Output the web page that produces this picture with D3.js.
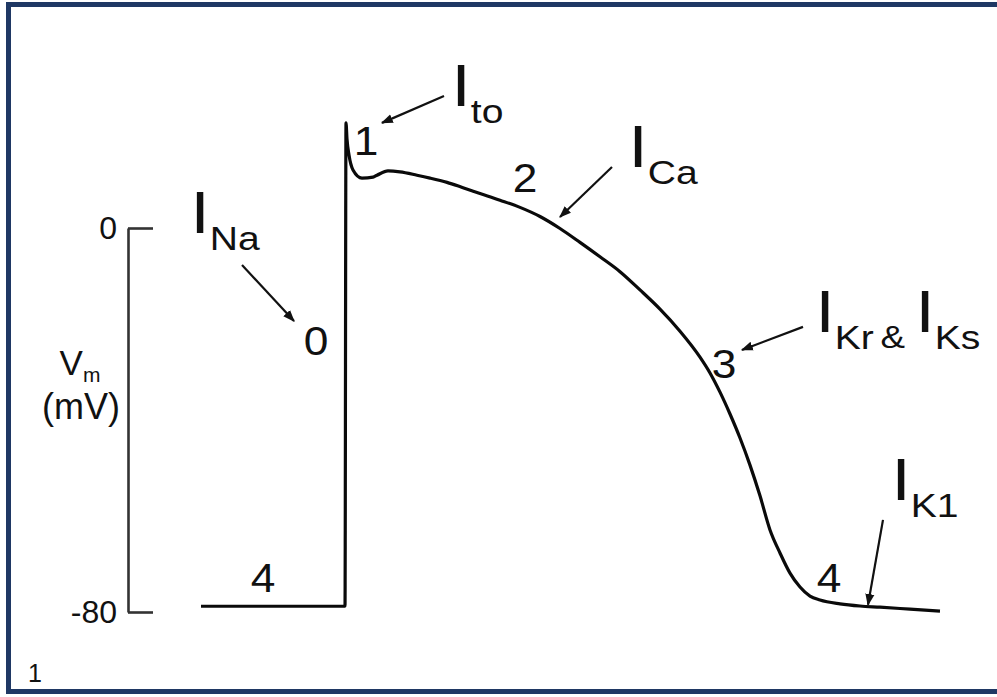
<!DOCTYPE html>
<html><head><meta charset="utf-8">
<script src="https://cdn.jsdelivr.net/npm/d3@7"></script>
<style>
body{margin:0;background:#fff}
svg{display:block}
text{font-family:"Liberation Sans",Arial,Helvetica,sans-serif;fill:#111}
</style>
</head><body>
<svg id="chart" width="997" height="697"></svg>
<script>
// ---- data (time in ms relative to upstroke, membrane potential in mV) ----
const timeMs = [-72, 0, 0.5, 1, 2, 4, 8.5, 14, 16, 21.5, 27.5, 36, 42.5, 51, 59, 67.5, 77.5, 87.5, 97.5,
  107.5, 117.5, 127.5, 137.5, 147.5, 157.5, 167.5, 177.5, 182.5, 187.5, 192.5, 197.5, 202.5, 207.5, 212.5,
  217.5, 222.5, 227.5, 232.5, 237.5, 247.5, 257.5, 267.5, 282.5, 297.5];
const vm = [-78.8, -78.8, 21.9, 18.5, 15.2, 12.1, 10.4, 10.6, 11.0, 11.9, 11.7, 11.0, 10.4, 9.5, 8.4, 7.2, 5.8, 4.3, 2.4,
  -0.1, -3.0, -6.0, -9.1, -12.9, -16.9, -21.5, -26.9, -30.2, -34.2, -38.75, -43.75, -49.4, -55.8, -62.9,
  -67.7, -71.9, -74.8, -76.7, -77.5, -78.3, -78.75, -79.0, -79.4, -79.8];

const axisTicks = [0, -80];
const axisTitle = "V";
const axisTitleSub = "m";
const axisUnit = "(mV)";

const phaseLabels = ["0", "1", "2", "3", "4", "4"];
const phaseT = [-14.5, 10.5, 90, 189.5, -41, 242];
const phaseV = [-26.5, 15.2, 7.5, -31.3, -75.8, -75.8];

const currentSubs = ["Na", "to", "Ca", "Kr", "Ks", "K1"];
const currentT = [-77.2, 53.3, 141.8, 235.3, 285.3, 273.3];
const currentV = [-1.0, 25.4, 12.7, -21.7, -21.7, -56.7];
const joinLabel = "&";
const joinT = 267.8;
const joinV = -25.0;

const arrowFromT = [-51.5, 49.5, 133.5, 229, 269];
const arrowFromV = [-7.7, 27.5, 12.7, -20.6, -60.8];
const arrowToT = [-25.5, 18.5, 107.5, 198.5, 261.5];
const arrowToV = [-19.4, 21.9, 2.3, -25.4, -78.5];

const figureNumber = "1";

// ---- drawing ----
const svg = d3.select("#chart");
const x = d3.scaleLinear().domain([-100, 300]).range([145, 945]);
const y = d3.scaleLinear().domain([-80, 0]).range([612, 228]);

// frame
svg.append("rect").attr("x", 8.5).attr("y", 4.5).attr("width", 995).attr("height", 687)
  .attr("fill", "#fff").attr("stroke", "#1f3864").attr("stroke-width", 5);

// arrow marker
svg.append("defs").append("marker").attr("id", "ah")
  .attr("viewBox", "0 0 10 10").attr("refX", 9).attr("refY", 5)
  .attr("markerWidth", 12).attr("markerHeight", 12).attr("markerUnits", "userSpaceOnUse")
  .attr("orient", "auto")
  .append("path").attr("d", "M0,1.2L10,5L0,8.8Z").attr("fill", "#111");

// axis bracket
const axis = d3.axisLeft(y).tickValues(axisTicks).tickSizeInner(-25).tickSizeOuter(0)
  .tickPadding(11).tickFormat(d => String(d));
const ag = svg.append("g").attr("transform", "translate(128,0)").call(axis);
ag.select(".domain").attr("stroke", "#333").attr("stroke-width", 2.6);
ag.selectAll(".tick line").attr("stroke", "#333").attr("stroke-width", 2.6);
ag.selectAll(".tick text").attr("font-size", 32).attr("fill", "#222")
  .attr("font-family", "'Liberation Sans', Arial, sans-serif");

// axis title
const tt = svg.append("text").attr("x", 80).attr("y", 375).attr("text-anchor", "middle").attr("font-size", 35);
tt.append("tspan").text(axisTitle);
tt.append("tspan").attr("font-size", 21).attr("dy", 7).text(axisTitleSub);
svg.append("text").attr("x", 81).attr("y", 419).attr("text-anchor", "middle").attr("font-size", 36).text(axisUnit);

// action potential trace
const pts = timeMs.map((t, i) => [t, vm[i]]);
svg.append("path").datum(pts)
  .attr("d", d3.line().x(d => x(d[0])).y(d => y(d[1])).curve(d3.curveMonotoneX))
  .attr("fill", "none").attr("stroke", "#0a0a0a").attr("stroke-width", 3.2)
  .attr("stroke-linejoin", "round");

// arrows
svg.append("g").selectAll("line").data(arrowFromT).join("line")
  .attr("x1", (d, i) => x(arrowFromT[i])).attr("y1", (d, i) => y(arrowFromV[i]))
  .attr("x2", (d, i) => x(arrowToT[i])).attr("y2", (d, i) => y(arrowToV[i]))
  .attr("stroke", "#111").attr("stroke-width", 2.2).attr("marker-end", "url(#ah)");

// phase numbers
svg.append("g").selectAll("text").data(phaseLabels).join("text")
  .attr("transform", (d, i) => `translate(${x(phaseT[i])},${y(phaseV[i])}) scale(1.08,1)`)
  .attr("text-anchor", "middle").attr("font-size", 41).text(d => d);

// current labels
const cl = svg.append("g").selectAll("text").data(currentSubs).join("text")
  .attr("transform", (d, i) => `translate(${x(currentT[i])},${y(currentV[i])}) scale(1.15,1)`);
cl.append("tspan").attr("font-size", 60).text("I");
cl.append("tspan").attr("font-size", 34).attr("dy", 17).text(d => d);

svg.append("text").attr("transform", `translate(${x(joinT)},${y(joinV)}) scale(1.15,1)`)
  .attr("font-size", 32).text(joinLabel);

// figure number
svg.append("text").attr("x", 28).attr("y", 682).attr("font-size", 25)
  .attr("font-family", "'DejaVu Sans', sans-serif").text(figureNumber);
</script>
</body></html>
